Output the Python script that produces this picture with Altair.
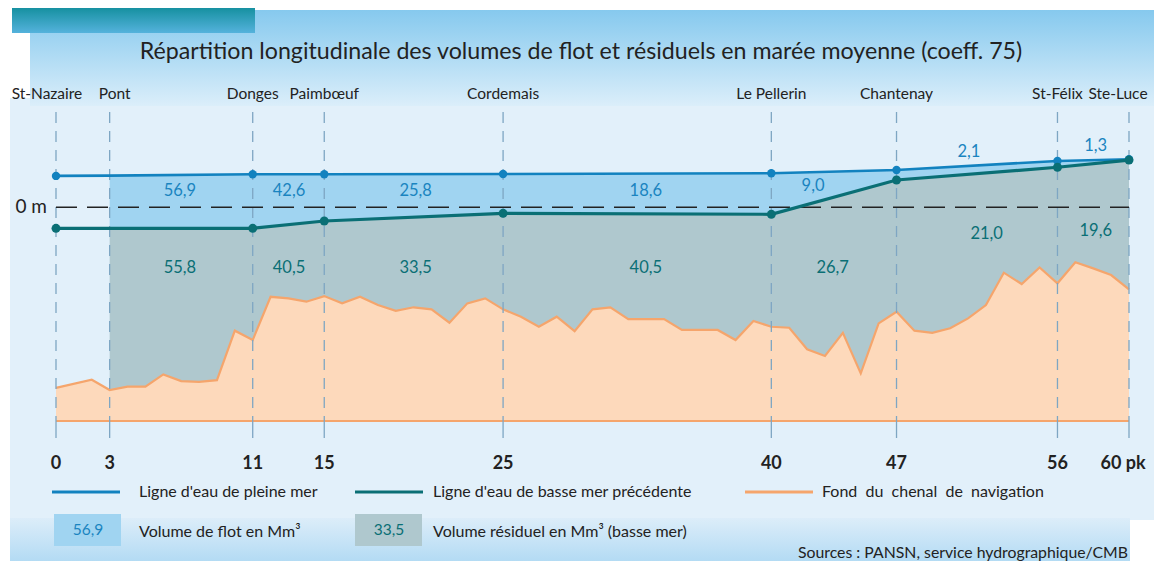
import altair as alt
import pandas as pd

FONT = "Lato"

# ---- data ----
pk_stations = [0, 3, 11, 15, 25, 40, 47, 56, 60]
towns = ["St-Nazaire", "Pont", "Donges", "Paimbœuf", "Cordemais", "Le Pellerin",
         "Chantenay", "St-Félix", "Ste-Luce"]
town_dx = [-9, 5, 0, 0, 0, 0, 0, 0, -11]
tick_labels = ["0", "3", "11", "15", "25", "40", "47", "56", "60 pk"]
tick_dx = [0, 0, 0, 0, 0, 0, 0, 0, -6]

# water levels (m) at stations
hw = [2.24, 2.26, 2.36, 2.36, 2.38, 2.43, 2.66, 3.31, 3.43]
lw = [-1.5, -1.5, -1.5, -0.98, -0.43, -0.5, 1.95, 2.86, 3.37]
has_dot = [1, 0, 1, 1, 1, 1, 1, 1, 1]

# navigation channel bed (m)
bed_pk = [0, 2, 3, 4, 5, 6, 7, 8, 9, 10, 11, 12, 13, 14, 15, 16, 17, 18, 19, 20,
          21, 22, 23, 24, 25, 26, 27, 28, 29, 30, 31, 32, 34, 35, 37, 38, 39, 40,
          41, 42, 43, 44, 45, 46, 47, 48, 49, 50, 51, 52, 53, 54, 55, 56, 57, 58, 59, 60]
bed_m = [-12.89, -12.31, -13.05, -12.81, -12.81, -11.93, -12.41, -12.46, -12.34, -8.81,
         -9.48, -6.39, -6.5, -6.74, -6.34, -6.86, -6.39, -6.98, -7.39, -7.14,
         -7.29, -8.24, -6.86, -6.5, -7.29, -7.81, -8.53, -7.81, -8.84, -7.29,
         -7.14, -7.98, -7.98, -8.76, -8.76, -9.48, -8.12, -8.53,
         -8.6, -10.14, -10.62, -8.96, -11.86, -8.29, -7.46, -8.81, -8.96, -8.64,
         -7.93, -6.98, -4.67, -5.48, -4.29, -5.43, -3.93, -4.36, -4.84, -5.86]
BASE = -15.26
TOP = 7.09

flood_vals = ["56,9", "42,6", "25,8", "18,6", "9,0", "2,1", "1,3"]
flood_pk = [6.93, 13.03, 20.11, 32.98, 42.33, 51.05, 58.14]
flood_y = [1.16, 1.16, 1.16, 1.16, 1.52, 3.97, 4.4]
resid_vals = ["55,8", "40,5", "33,5", "40,5", "26,7", "21,0", "19,6"]
resid_pk = [6.93, 13.03, 20.11, 32.98, 43.43, 52.04, 58.14]
resid_y = [-4.34, -4.34, -4.34, -4.34, -4.34, -1.93, -1.69]

NB = " \u00a0"
legend_line_labels = ["Ligne d'eau de pleine mer", "Ligne d'eau de basse mer précédente",
                      "Fond" + NB + "du" + NB + "chenal" + NB + "de" + NB + "navigation"]
legend_box_labels = ["Volume de flot en Mm³", "Volume résiduel en Mm³ (basse mer)"]
legend_box_values = ["56,9", "33,5"]

TITLE = "Répartition longitudinale des volumes de flot et résiduels en marée moyenne (coeff. 75)"
SOURCE = "Sources : PANSN, service hydrographique/CMB"

C_HW = "#1282bf"
C_LW = "#0a6f75"
C_FLOOD = "#a0d4f1"
C_RESID = "#afc8ce"
C_BED = "#fdd9bb"
C_BEDLINE = "#f5a56c"
C_TEXT = "#222222"
C_GRID = "#7ea6c3"

# ---- tables ----
st = pd.DataFrame({"pk": pk_stations, "hw": hw, "lw": lw, "has_dot": has_dot,
                   "town": towns, "tick": tick_labels})
st["base"] = BASE
st_vol = st[st["pk"] >= 3]
st_dot = st[st["has_dot"] == 1]
bed = pd.DataFrame({"pk": bed_pk, "bed": bed_m})
bed["base"] = BASE
flood = pd.DataFrame({"pk": flood_pk, "y": flood_y, "t": flood_vals})
resid = pd.DataFrame({"pk": resid_pk, "y": resid_y, "t": resid_vals})
zero = pd.DataFrame({"a": [0], "b": [60], "y": [0.0]})
one = pd.DataFrame({"k": [0]})

xs = alt.Scale(domain=[0, 60], nice=False, zero=False)
ys = alt.Scale(domain=[BASE, TOP], nice=False, zero=False)
X = lambda f: alt.X(f, type="quantitative", scale=xs, axis=None)
Y = lambda f: alt.Y(f, type="quantitative", scale=ys, axis=None)

# page px -> plot coordinates (plot origin at page (56,108))
px = lambda v: alt.value(v - 56)
py = lambda v: alt.value(v - 108)


def grad(c0, c1):
    return alt.Gradient(gradient="linear", x1=0, x2=0, y1=0, y2=1,
                        stops=[alt.GradientStop(color=c0, offset=0),
                               alt.GradientStop(color=c1, offset=1)])


def rect(x0, x1, y0, y1, color):
    return alt.Chart(one).mark_rect(color=color, strokeWidth=0).encode(
        x=px(x0), x2=px(x1), y=py(y0), y2=py(y1))


bg = [
    rect(10, 1170, 98, 520, "#e2f0fa"),
    rect(30, 1170, 10, 106, grad("#86c9ee", "#dbeefa")),
    rect(10, 1130, 518, 575, grad("#dcedf9", "#a6d5f2")),
    rect(12, 255, 0, 33, grad("#02868e", "#55b2dc")),
]

flood_area = alt.Chart(st_vol).mark_area(color=C_FLOOD, opacity=1).encode(
    x=X("pk"), y=Y("hw"), y2="lw")
resid_area = alt.Chart(st_vol).mark_area(color=C_RESID, opacity=1).encode(
    x=X("pk"), y=Y("lw"), y2="base")
bed_area = alt.Chart(bed).mark_area(color=C_BED, opacity=1).encode(
    x=X("pk"), y=Y("bed"), y2="base")
bed_line = alt.Chart(bed).mark_line(color=C_BEDLINE, strokeWidth=2.2).encode(
    x=X("pk"), y=Y("bed"))
base_line = alt.Chart(bed).mark_line(color=C_BEDLINE, strokeWidth=2.2).encode(
    x=X("pk"), y=Y("base"))

vlines = alt.Chart(st).mark_rule(color=C_GRID, strokeWidth=1.3, strokeDash=[11, 8]).encode(
    x=X("pk"), y=py(112), y2=py(421))
ticks = alt.Chart(st).mark_rule(color=C_GRID, strokeWidth=1.3).encode(
    x=X("pk"), y=py(421), y2=py(438))
zero_line = alt.Chart(zero).mark_rule(color="#222222", strokeWidth=1.6, strokeDash=[21, 10]).encode(
    x=X("a"), x2="b", y=Y("y"))
zero_lbl = alt.Chart(one).mark_text(text="0 m", font=FONT, fontSize=19, color=C_TEXT,
                                    align="right", baseline="middle").encode(
    x=px(47), y=py(207))

hw_line = alt.Chart(st).mark_line(color=C_HW, strokeWidth=2.6).encode(x=X("pk"), y=Y("hw"))
lw_line = alt.Chart(st).mark_line(color=C_LW, strokeWidth=3.2).encode(x=X("pk"), y=Y("lw"))
hw_pts = alt.Chart(st_dot).mark_circle(color=C_HW, size=70, opacity=1).encode(
    x=X("pk"), y=Y("hw"))
lw_pts = alt.Chart(st_dot).mark_circle(color=C_LW, size=80, opacity=1).encode(
    x=X("pk"), y=Y("lw"))

flood_txt = alt.Chart(flood).mark_text(font=FONT, fontSize=16.5, color="#1a84c0",
                                       baseline="middle").encode(
    x=X("pk"), y=Y("y"), text="t:N")
resid_txt = alt.Chart(resid).mark_text(font=FONT, fontSize=16.5, color=C_LW,
                                       baseline="middle").encode(
    x=X("pk"), y=Y("y"), text="t:N")

# station labels (one layer each so that edge labels can be nudged)
lbls = []
for p, tdx, kdx in zip(pk_stations, town_dx, tick_dx):
    lbls.append(alt.Chart(st).transform_filter(alt.datum.pk == p).mark_text(
        font=FONT, fontSize=15.5, color=C_TEXT, baseline="alphabetic", dx=tdx).encode(
        x=X("pk"), y=py(99), text="town:N"))
    lbls.append(alt.Chart(st).transform_filter(alt.datum.pk == p).mark_text(
        font=FONT, fontSize=18, fontWeight="bold", color=C_TEXT, baseline="alphabetic",
        dx=kdx).encode(x=X("pk"), y=py(469), text="tick:N"))

title = alt.Chart(one).mark_text(text=TITLE, font=FONT, fontSize=23.2, color=C_TEXT,
                                 baseline="alphabetic", align="center").encode(
    x=px(581), y=py(59))

# legend
leg = []
for x0, col in zip([52, 355, 745], [C_HW, C_LW, C_BEDLINE]):
    leg.append(alt.Chart(one).mark_rule(color=col, strokeWidth=3).encode(
        x=px(x0), x2=px(x0 + 68), y=py(492), y2=py(492)))
for x0, lab in zip([139, 433, 822], legend_line_labels):
    leg.append(alt.Chart(one).mark_text(text=lab, font=FONT, fontSize=16, color=C_TEXT,
                                        align="left", baseline="alphabetic").encode(
        x=px(x0), y=py(497)))
for x0, col, tcol, val in zip([54, 355], [C_FLOOD, C_RESID], ["#1a84c0", C_LW], legend_box_values):
    leg.append(alt.Chart(one).mark_rect(color=col).encode(
        x=px(x0), x2=px(x0 + 67), y=py(514), y2=py(546)))
    leg.append(alt.Chart(one).mark_text(text=val, font=FONT, fontSize=15.5, color=tcol,
                                        align="center", baseline="middle").encode(
        x=px(x0 + 34), y=py(530)))
for x0, lab in zip([139, 433], legend_box_labels):
    leg.append(alt.Chart(one).mark_text(text=lab, font=FONT, fontSize=16, color=C_TEXT,
                                        align="left", baseline="alphabetic").encode(
        x=px(x0), y=py(537)))
leg.append(alt.Chart(one).mark_text(text=SOURCE, font=FONT, fontSize=15.8, color=C_TEXT,
                                    align="right", baseline="alphabetic").encode(
    x=px(1128), y=py(558)))

chart = alt.layer(
    *bg, flood_area, resid_area, bed_area, bed_line, base_line,
    vlines, ticks, zero_line, zero_lbl,
    hw_line, lw_line, hw_pts, lw_pts, flood_txt, resid_txt,
    *lbls, title, *leg
).properties(
    width=1073, height=313,
    padding={"left": 48, "top": 100, "right": 25, "bottom": 140},
    autosize=alt.AutoSizeParams(type="none"),
    background="white",
).configure_view(strokeWidth=0)

chart.save("out.html", embed_options={"renderer": "svg", "actions": False})
